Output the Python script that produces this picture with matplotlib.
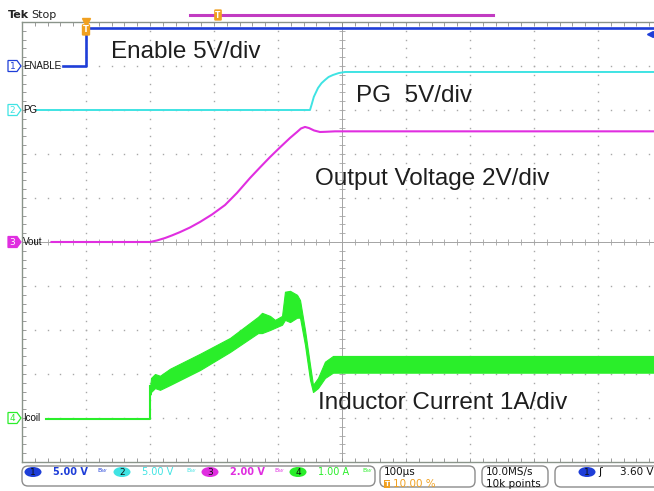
import numpy as np
import matplotlib
matplotlib.use("Agg")
import matplotlib.pyplot as plt
from matplotlib.patches import FancyBboxPatch, Ellipse, Polygon

# scope settings: 100 us/div, trigger at 10 % of record
ch_scale = {1: 5.0, 2: 5.0, 3: 2.0, 4: 1.0}     # units per division
ch_pos = {1: 4.0, 2: 3.0, 3: 0.0, 4: -4.02}     # ground marker, in divisions

# ch1 ENABLE (V) vs time (us)
enable_t = [-36, 0, 0, 900]
enable_v = [0, 0, 4.32, 4.32]

# ch2 PG (V)
pg_t = [-77, 350, 352.5, 356, 362.5, 368, 373.4, 379, 385.9, 395, 404.7, 900]
pg_v = [0, 0, 0.6, 1.5, 2.5, 3.05, 3.41, 3.75, 3.98, 4.2, 4.32, 4.32]

# ch3 Vout (V)
vout_t = [-54, 100, 110.9, 123.4, 134.4, 146.9, 162.5, 178.1, 196.9, 217.2, 235.9, 256.3,
          271.9, 287.5, 303.1, 318.8, 329.7, 335.9, 342.2, 348.4, 356.3, 365.6, 375, 389.1, 900]
vout_v = [0, 0, 0.07, 0.18, 0.30, 0.45, 0.66, 0.91, 1.25, 1.68, 2.23, 2.91,
          3.39, 3.86, 4.30, 4.73, 5.0, 5.16, 5.23, 5.18, 5.07, 5.0, 5.01, 5.03, 5.03]

# ch4 Icoil (A): flat part, then the ripple envelope
icoil_base_t = [-62, 100, 100]
icoil_base_a = [0, 0, 0.75]
icoil_t = [100.5, 101.6, 107.8, 115.6, 131.3, 178.1, 225, 268.8, 275, 287.5, 295.3, 306.3,
           310.9, 318.8, 329.7, 334.4, 342.2, 350, 354.7, 362.5, 373.4, 385.9, 900]
icoil_hi = [0.75, 0.93, 1.02, 0.98, 1.14, 1.48, 1.84, 2.32, 2.41, 2.34, 2.25, 2.34,
            2.89, 2.91, 2.82, 2.70, 2.02, 1.23, 0.77, 0.93, 1.30, 1.43, 1.43]
icoil_lo = [0.55, 0.61, 0.70, 0.66, 0.77, 1.11, 1.52, 1.95, 1.95, 2.02, 2.07, 2.14,
            2.25, 2.20, 2.30, 2.30, 1.68, 0.89, 0.61, 0.70, 0.93, 1.05, 1.05]

labels = ["ENABLE", "PG", "Vout", "Icoil"]
colors = {1: "#1e3ed8", 2: "#3fe3e3", 3: "#e02ee0", 4: "#2aee2a"}

readout_units = ["5.00 V", "5.00 V", "2.00 V", "1.00 A"]


def div(ch, v):
    return ch_pos[ch] + np.asarray(v, dtype=float) / ch_scale[ch]


fig = plt.figure(figsize=(6.54, 4.91), dpi=100)
fig.patch.set_facecolor("white")

# graticule area: 10 x 10 divisions, 64 x 44 px each
ax = fig.add_axes([22 / 654, 29 / 491, 640 / 654, 440 / 491])
ax.set_xlim(-100, 900)
ax.set_ylim(-5, 5)
ax.set_xticks(np.arange(-100, 901, 20))
ax.set_yticks(np.arange(-5, 5.01, 0.2))
ax.tick_params(which="both", direction="in", length=3, width=0.6, color="#8a8a8a",
               top=True, right=True, labelleft=False, labelbottom=False)
for s in ax.spines.values():
    s.set_color("#8a948a")
    s.set_linewidth(1.0)

# dotted grid
gx = np.arange(-100, 901, 20)
gy = np.arange(-5, 5.01, 0.2)
for yy in range(-4, 5):
    if yy == 0:
        continue
    ax.plot(gx, np.full(gx.size, yy), ls="none", marker="s", ms=1.0, mew=0, color="#a8a8a8", zorder=1)
for xx in range(0, 900, 100):
    if xx == 400:
        continue
    ax.plot(np.full(gy.size, xx), gy, ls="none", marker="s", ms=1.0, mew=0, color="#a8a8a8", zorder=1)
# center cross with minor ticks
ax.axhline(0, color="#a4a4a4", lw=0.7, zorder=1)
ax.axvline(400, color="#a4a4a4", lw=0.7, zorder=1)
ax.plot(gx, np.zeros(gx.size), ls="none", marker="|", ms=4, mew=0.6, color="#a4a4a4", zorder=1)
ax.plot(np.full(gy.size, 400), gy, ls="none", marker="_", ms=4, mew=0.6, color="#a4a4a4", zorder=1)

# traces
ax.plot(enable_t, div(1, enable_v), color=colors[1], lw=1.9, zorder=4)
ax.plot(pg_t, div(2, pg_v), color=colors[2], lw=1.4, zorder=4)
ax.plot(vout_t, div(3, vout_v), color=colors[3], lw=1.5, zorder=4)
ax.plot(icoil_base_t, div(4, icoil_base_a), color=colors[4], lw=1.5, zorder=4)
ax.fill_between(icoil_t, div(4, icoil_lo), div(4, icoil_hi), color=colors[4], lw=0.8,
                edgecolor=colors[4], zorder=4)

# trigger position marker
tx = ax.get_xaxis_transform()
ax.plot([0], [1.0], transform=tx, marker="v", ms=6, color="#f0a020", clip_on=False, zorder=6)
ax.text(0, 0.982, "T", transform=tx, ha="center", va="center", fontsize=6, color="white",
        fontweight="bold", bbox=dict(boxstyle="round,pad=0.15", fc="#f0a020", ec="none"), zorder=6)

# overlay in pixel coordinates
ov = fig.add_axes([0, 0, 1, 1])
ov.set_xlim(0, 654)
ov.set_ylim(491, 0)
ov.axis("off")

ov.text(8, 15, "Tek", fontsize=8, fontweight="bold", va="center", color="#222222")
ov.text(31, 15, "Stop", fontsize=8, va="center", color="#222222")
ov.plot([190, 493], [15, 15], color="#c23cc2", lw=2.2)
ov.text(218, 15, "T", ha="center", va="center", fontsize=5.5, color="white", fontweight="bold",
        bbox=dict(boxstyle="round,pad=0.15", fc="#f0a020", ec="none"))
ov.plot([650], [34], marker="<", ms=5, color=colors[1])

# channel ground markers and labels
mark_y = {1: 66, 2: 110, 3: 242, 4: 418}
for ch, lab in zip([1, 2, 3, 4], labels):
    y = mark_y[ch]
    fill = colors[ch] if ch == 3 else "white"
    ov.add_patch(Polygon([(8, y - 5.5), (17, y - 5.5), (21, y), (17, y + 5.5), (8, y + 5.5)],
                         closed=True, fc=fill, ec=colors[ch], lw=0.9))
    ov.text(12.5, y + 0.5, str(ch), ha="center", va="center", fontsize=6.5,
            color="white" if ch == 3 else colors[ch])
    ov.text(23, y, lab, ha="left", va="center", fontsize=7, family="Liberation Sans", color="#111111")

# annotations
ann_font = dict(family="Liberation Sans", fontsize=17.5, color="#1e1e1e", va="baseline")
ov.text(111, 58, "Enable 5V/div", **ann_font)
ov.text(356, 102, "PG  5V/div", **ann_font)
ov.text(315, 185, "Output Voltage 2V/div", **ann_font)
ov.text(318, 409, "Inductor Current 1A/div", **ann_font)

# status bar
box_kw = dict(boxstyle="round,pad=0,rounding_size=6", fc="white", ec="#8c8c8c", lw=1.0)
ov.add_patch(FancyBboxPatch((22, 466), 353, 20, **box_kw))
ov.add_patch(FancyBboxPatch((380, 466), 95, 21, **box_kw))
ov.add_patch(FancyBboxPatch((482, 466), 66, 21, **box_kw))
ov.add_patch(FancyBboxPatch((555, 466), 110, 21, **box_kw))

oval_x = [33, 122, 210, 298]
for i, ch in enumerate([1, 2, 3, 4]):
    ov.add_patch(Ellipse((oval_x[i], 472), 17, 10, fc=colors[ch], ec="none"))
    ov.text(oval_x[i], 472.5, str(ch), ha="center", va="center", fontsize=6.5, color="#111111")
    ov.text(oval_x[i] + 20, 472, readout_units[i], ha="left", va="center", fontsize=7,
            color=colors[ch], fontweight="bold" if ch in (1, 3) else "normal")
    ov.text(oval_x[i] + 69, 471, "B$_W$", ha="center", va="center", fontsize=4.5, color=colors[ch])

ov.text(384, 472, "100\u00b5s", ha="left", va="center", fontsize=7.5, color="#111111")
ov.text(387, 484, "T", ha="center", va="center", fontsize=5, color="white", fontweight="bold",
        bbox=dict(boxstyle="square,pad=0.12", fc="#f0a020", ec="none"))
ov.text(393, 484, "10.00 %", ha="left", va="center", fontsize=7.5, color="#f0a020")
ov.text(486, 472, "10.0MS/s", ha="left", va="center", fontsize=7.5, color="#111111")
ov.text(486, 484, "10k points", ha="left", va="center", fontsize=7.5, color="#111111")
ov.add_patch(Ellipse((587, 472), 17, 10, fc=colors[1], ec="none"))
ov.text(587, 472.5, "1", ha="center", va="center", fontsize=6.5, color="#111111")
ov.text(600, 472, "\u0283", ha="center", va="center", fontsize=8, color="#111111")
ov.text(620, 472, "3.60 V", ha="left", va="center", fontsize=7.5, color="#111111")

fig.savefig("out.png", dpi=100)
